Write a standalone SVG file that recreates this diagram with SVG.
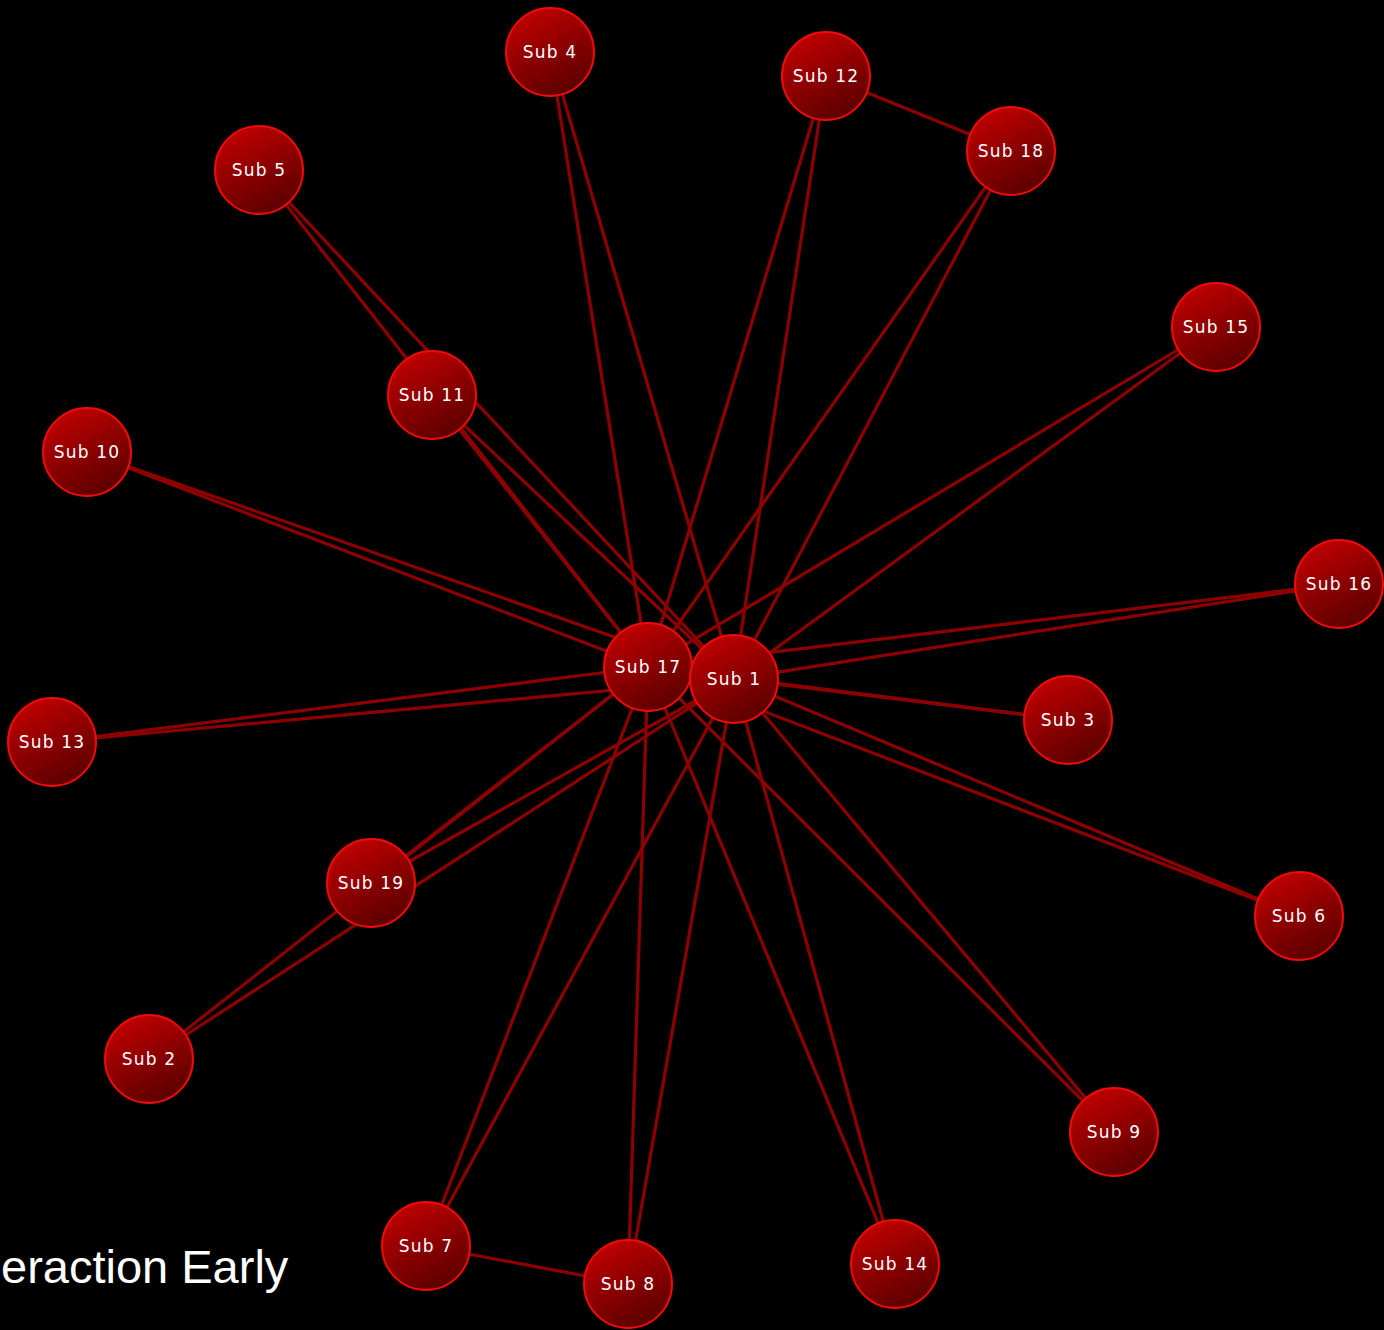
<svg xmlns="http://www.w3.org/2000/svg" width="1384" height="1330" viewBox="0 0 1384 1330">
<defs>
<linearGradient id="g" x1="0.25" y1="0" x2="0.75" y2="1">
<stop offset="0" stop-color="#c20000"/>
<stop offset="1" stop-color="#560000"/>
</linearGradient>
</defs>
<style>
.e{stroke:#8e0000;stroke-width:3.2;fill:none}
.n circle{fill:url(#g);stroke:#f00a0a;stroke-width:2}
.n text{fill:#ffffff;font-family:"DejaVu Sans",Verdana,sans-serif;font-size:17px;letter-spacing:1.2px;text-anchor:middle}
.t{fill:#ffffff;font-family:"Liberation Sans",Arial,sans-serif;font-size:47px}
</style>
<rect width="1384" height="1330" fill="#000"/>
<g id="connectors">
<line class="e" x1="550" y1="52" x2="648" y2="667"/><line class="e" x1="550" y1="52" x2="734" y2="679"/>
<line class="e" x1="826" y1="76" x2="648" y2="667"/><line class="e" x1="826" y1="76" x2="734" y2="679"/>
<line class="e" x1="1011" y1="151" x2="648" y2="667"/><line class="e" x1="1011" y1="151" x2="734" y2="679"/>
<line class="e" x1="259" y1="170" x2="648" y2="667"/><line class="e" x1="259" y1="170" x2="734" y2="679"/>
<line class="e" x1="1216" y1="327" x2="648" y2="667"/><line class="e" x1="1216" y1="327" x2="734" y2="679"/>
<line class="e" x1="432" y1="395" x2="648" y2="667"/><line class="e" x1="432" y1="395" x2="734" y2="679"/>
<line class="e" x1="87" y1="452" x2="648" y2="667"/><line class="e" x1="87" y1="452" x2="734" y2="679"/>
<line class="e" x1="1339" y1="584" x2="648" y2="667"/><line class="e" x1="1339" y1="584" x2="734" y2="679"/>
<line class="e" x1="1068" y1="720" x2="648" y2="667"/><line class="e" x1="1068" y1="720" x2="734" y2="679"/>
<line class="e" x1="52" y1="742" x2="648" y2="667"/><line class="e" x1="52" y1="742" x2="734" y2="679"/>
<line class="e" x1="371" y1="883" x2="648" y2="667"/><line class="e" x1="371" y1="883" x2="734" y2="679"/>
<line class="e" x1="1299" y1="916" x2="648" y2="667"/><line class="e" x1="1299" y1="916" x2="734" y2="679"/>
<line class="e" x1="149" y1="1059" x2="648" y2="667"/><line class="e" x1="149" y1="1059" x2="734" y2="679"/>
<line class="e" x1="1114" y1="1132" x2="648" y2="667"/><line class="e" x1="1114" y1="1132" x2="734" y2="679"/>
<line class="e" x1="426" y1="1246" x2="648" y2="667"/><line class="e" x1="426" y1="1246" x2="734" y2="679"/>
<line class="e" x1="628" y1="1284" x2="648" y2="667"/><line class="e" x1="628" y1="1284" x2="734" y2="679"/>
<line class="e" x1="895" y1="1264" x2="648" y2="667"/><line class="e" x1="895" y1="1264" x2="734" y2="679"/>
<line class="e" x1="826" y1="76" x2="1011" y2="151"/>
<line class="e" x1="426" y1="1246" x2="628" y2="1284"/>
<line class="e" x1="648" y1="667" x2="734" y2="679"/>
</g>
<g id="sub4" class="n"><circle cx="550" cy="52" r="44"/><text x="550" y="58">Sub 4</text></g>
<g id="sub12" class="n"><circle cx="826" cy="76" r="44"/><text x="826" y="82">Sub 12</text></g>
<g id="sub18" class="n"><circle cx="1011" cy="151" r="44"/><text x="1011" y="157">Sub 18</text></g>
<g id="sub5" class="n"><circle cx="259" cy="170" r="44"/><text x="259" y="176">Sub 5</text></g>
<g id="sub15" class="n"><circle cx="1216" cy="327" r="44"/><text x="1216" y="333">Sub 15</text></g>
<g id="sub11" class="n"><circle cx="432" cy="395" r="44"/><text x="432" y="401">Sub 11</text></g>
<g id="sub10" class="n"><circle cx="87" cy="452" r="44"/><text x="87" y="458">Sub 10</text></g>
<g id="sub16" class="n"><circle cx="1339" cy="584" r="44"/><text x="1339" y="590">Sub 16</text></g>
<g id="sub17" class="n"><circle cx="648" cy="667" r="44"/><text x="648" y="673">Sub 17</text></g>
<g id="sub1" class="n"><circle cx="734" cy="679" r="44"/><text x="734" y="685">Sub 1</text></g>
<g id="sub3" class="n"><circle cx="1068" cy="720" r="44"/><text x="1068" y="726">Sub 3</text></g>
<g id="sub13" class="n"><circle cx="52" cy="742" r="44"/><text x="52" y="748">Sub 13</text></g>
<g id="sub19" class="n"><circle cx="371" cy="883" r="44"/><text x="371" y="889">Sub 19</text></g>
<g id="sub6" class="n"><circle cx="1299" cy="916" r="44"/><text x="1299" y="922">Sub 6</text></g>
<g id="sub2" class="n"><circle cx="149" cy="1059" r="44"/><text x="149" y="1065">Sub 2</text></g>
<g id="sub9" class="n"><circle cx="1114" cy="1132" r="44"/><text x="1114" y="1138">Sub 9</text></g>
<g id="sub7" class="n"><circle cx="426" cy="1246" r="44"/><text x="426" y="1252">Sub 7</text></g>
<g id="sub8" class="n"><circle cx="628" cy="1284" r="44"/><text x="628" y="1290">Sub 8</text></g>
<g id="sub14" class="n"><circle cx="895" cy="1264" r="44"/><text x="895" y="1270">Sub 14</text></g>
<text class="t" x="1" y="1283">eraction Early</text>
</svg>
